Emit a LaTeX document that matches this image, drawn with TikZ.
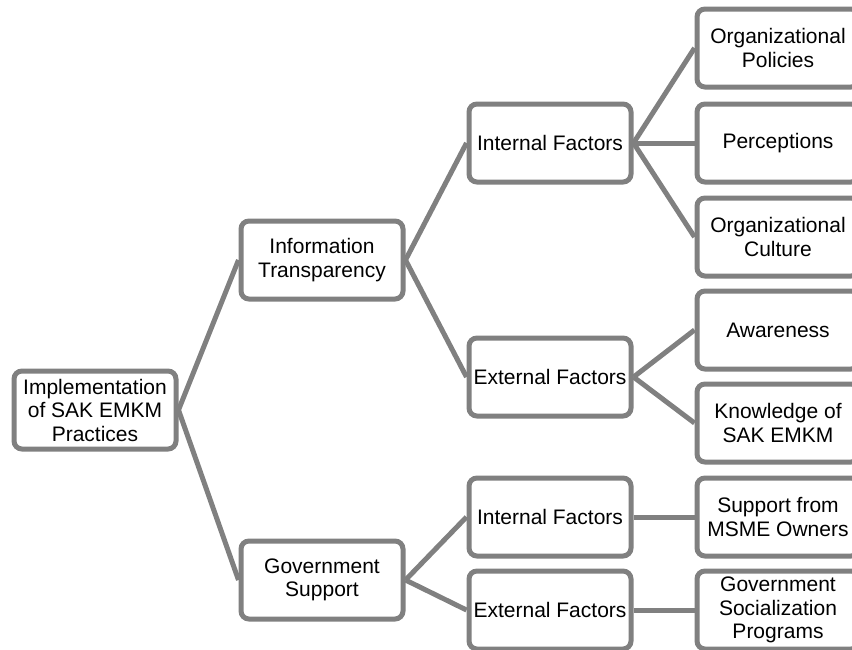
\documentclass[tikz,border=0pt]{standalone}
\usepackage{fontspec}
\setmainfont{Liberation Sans}
\definecolor{boxgray}{HTML}{808080}
\tikzset{
  box/.style={draw=boxgray, line width=5pt, rounded corners=8pt, fill=white,
    minimum width=162pt, minimum height=78pt, align=center, inner sep=1pt,
    font=\fontsize{21pt}{23.5pt}\selectfont},
  link/.style={draw=boxgray, line width=5pt}
}
\begin{document}
\begin{tikzpicture}[x=1pt,y=-1pt]
\useasboundingbox (0,0) rectangle (852,649);
\clip (0,0) rectangle (852,649);
% nodes
\node[box] (root) at (95,410) {Implementation\\of SAK EMKM\\Practices};
\node[box] (it) at (322,260) {Information\\Transparency};
\node[box] (gs) at (322,580) {Government\\Support};
\node[box] (itint) at (550,143) {Internal Factors};
\node[box] (itext) at (550,377) {External Factors};
\node[box] (gsint) at (550,517) {Internal Factors};
\node[box] (gsext) at (550,610) {External Factors};
\node[box] (pol) at (778,48) {Organizational\\Policies};
\node[box] (per) at (778,143) {Perceptions};
\node[box] (cul) at (778,237) {Organizational\\Culture};
\node[box] (awa) at (778,330) {Awareness};
\node[box] (kno) at (778,423) {Knowledge of\\SAK EMKM};
\node[box] (sup) at (778,517) {Support from\\MSME Owners};
\node[box] (soc) at (778,610) {Government\\Socialization\\Programs};
% connectors
\draw[link] (root.east) -- (it.west);
\draw[link] (root.east) -- (gs.west);
\draw[link] (it.east) -- (itint.west);
\draw[link] (it.east) -- (itext.west);
\draw[link] (gs.east) -- (gsint.west);
\draw[link] (gs.east) -- (gsext.west);
\draw[link] (itint.east) -- (pol.west);
\draw[link] (itint.east) -- (per.west);
\draw[link] (itint.east) -- (cul.west);
\draw[link] (itext.east) -- (awa.west);
\draw[link] (itext.east) -- (kno.west);
\draw[link] (gsint.east) -- (sup.west);
\draw[link] (gsext.east) -- (soc.west);
\end{tikzpicture}
\end{document}
